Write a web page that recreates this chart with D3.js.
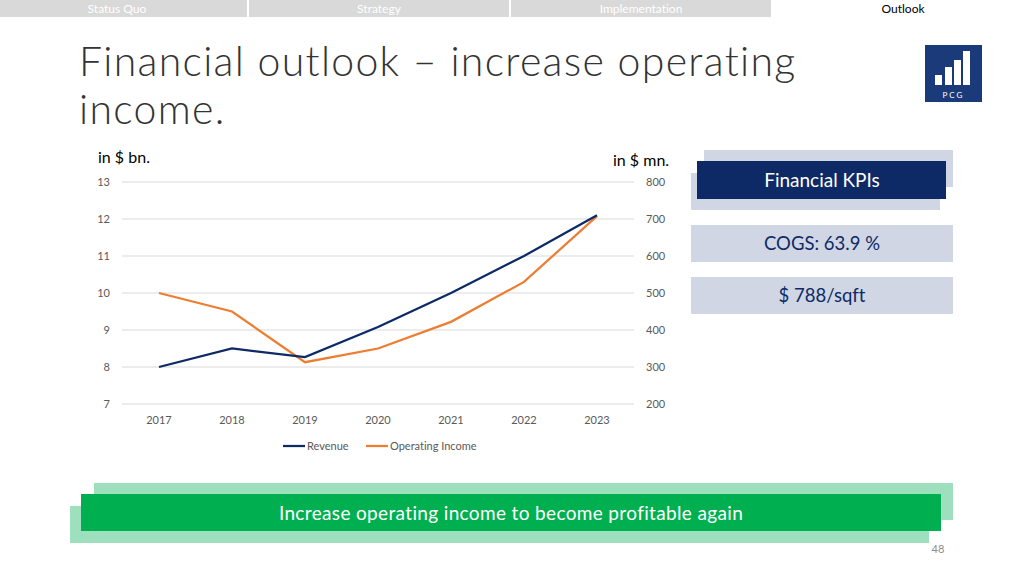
<!DOCTYPE html>
<html><head><meta charset="utf-8">
<script src="https://cdn.jsdelivr.net/npm/d3@7"></script>
<style>body{margin:0;background:#fff}svg{display:block}text{font-variant-ligatures:none}</style>
</head><body><svg id="c" width="1024" height="576"></svg>
<script>
const years = ["2017","2018","2019","2020","2021","2022","2023"];
const revenue = [8.0, 8.5, 8.27, 9.08, 10.0, 11.0, 12.1];
const opIncome = [500, 450, 313, 350, 422, 530, 708];
const leftTicks = [7,8,9,10,11,12,13];
const rightTicks = [200,300,400,500,600,700,800];
const tabs = ["Status Quo","Strategy","Implementation","Outlook"];
const kpis = ["COGS: 63.9 %","$ 788/sqft"];

const F = "Lato, 'Open Sans', sans-serif";
const svg = d3.select("#c");

// tabs
const tabX = d3.scaleBand().domain(tabs).range([-13,1033]).paddingInner(0.008);
tabs.forEach((t,i)=>{
  const last = i===tabs.length-1;
  svg.append("rect").attr("x",tabX(t)).attr("y",0).attr("width",tabX.bandwidth()).attr("height",17)
    .attr("fill", last?"#fff":"#d9d9d9");
  svg.append("text").attr("x",tabX(t)+tabX.bandwidth()/2).attr("y",13).attr("text-anchor","middle")
    .attr("font-family",F).attr("font-size",12).attr("fill", last?"#000":"#fff").text(t);
});

// title
svg.append("text").attr("x",79).attr("y",76).attr("font-family",F).attr("font-weight",300)
  .attr("font-size",41).attr("letter-spacing",1.3).attr("fill","#333").text("Financial outlook – increase operating");
svg.append("text").attr("x",79).attr("y",124).attr("font-family",F).attr("font-weight",300)
  .attr("font-size",41).attr("letter-spacing",1.3).attr("fill","#333").text("income.");

// logo
const lg = svg.append("g").attr("transform","translate(925,45)");
lg.append("rect").attr("width",57).attr("height",57).attr("fill","#1b3a7a");
[[10,30],[20,22],[29,15],[38,6]].forEach(b=>
  lg.append("rect").attr("x",b[0]).attr("y",b[1]).attr("width",7).attr("height",40-b[1]).attr("fill","#fff"));
lg.append("text").attr("x",28.5).attr("y",53).attr("text-anchor","middle").attr("font-family",F)
  .attr("font-size",8).attr("letter-spacing",2).attr("fill","#fff").text("PCG");

// chart
const x = d3.scaleBand().domain(years).range([122.5,633.5]);
const yL = d3.scaleLinear().domain([7,13]).range([404,182]);
const yR = d3.scaleLinear().domain([200,800]).range([404,182]);
const grid = svg.append("g");
leftTicks.forEach(t=>grid.append("line").attr("x1",122).attr("x2",634).attr("y1",yL(t)).attr("y2",yL(t))
  .attr("stroke","#d9d9d9").attr("stroke-width",1));

const axL = svg.append("g").attr("transform","translate(118,0)")
  .call(d3.axisLeft(yL).tickValues(leftTicks).tickSize(0).tickPadding(8).tickFormat(d3.format("d")));
const axR = svg.append("g").attr("transform","translate(638,0)")
  .call(d3.axisRight(yR).tickValues(rightTicks).tickSize(0).tickPadding(8).tickFormat(d3.format("d")));
const axB = svg.append("g").attr("transform","translate(0,412)")
  .call(d3.axisBottom(x).tickSize(0).tickPadding(4));
[axL,axR,axB].forEach(a=>{a.select(".domain").remove();
  a.selectAll("text").attr("font-family",F).attr("font-size",11).attr("fill","#595959");});

const lineL = d3.line().x((d,i)=>x(years[i])+x.bandwidth()/2).y(d=>yL(d));
const lineR = d3.line().x((d,i)=>x(years[i])+x.bandwidth()/2).y(d=>yR(d));
svg.append("path").datum(opIncome).attr("d",lineR).attr("fill","none").attr("stroke","#ed7d31").attr("stroke-width",2.25);
svg.append("path").datum(revenue).attr("d",lineL).attr("fill","none").attr("stroke","#0d2a66").attr("stroke-width",2.25);

svg.append("text").attr("x",98).attr("y",163).attr("font-family",F).attr("font-size",16).attr("fill","#000").text("in $ bn.");
svg.append("text").attr("x",613).attr("y",166).attr("font-family",F).attr("font-size",16).attr("fill","#000").text("in $ mn.");

// legend
[["Revenue","#0d2a66",283],["Operating Income","#ed7d31",366]].forEach(l=>{
  svg.append("line").attr("x1",l[2]).attr("x2",l[2]+22).attr("y1",446).attr("y2",446).attr("stroke",l[1]).attr("stroke-width",2.25);
  svg.append("text").attr("x",l[2]+24).attr("y",450).attr("font-family",F).attr("font-size",11).attr("fill","#595959").text(l[0]);
});

// KPI boxes
svg.append("rect").attr("x",704).attr("y",150).attr("width",249).attr("height",37).attr("fill","#d0d6e4");
svg.append("rect").attr("x",691).attr("y",173).attr("width",249).attr("height",37).attr("fill","#d0d6e4");
svg.append("rect").attr("x",697).attr("y",161).attr("width",249).attr("height",38).attr("fill","#0d2a66");
svg.append("text").attr("x",822).attr("y",187).attr("text-anchor","middle").attr("font-family",F)
  .attr("font-size",19).attr("fill","#fff").text("Financial KPIs");
kpis.forEach((k,i)=>{
  const y0 = 225 + i*52;
  svg.append("rect").attr("x",691).attr("y",y0).attr("width",262).attr("height",37).attr("fill","#d0d6e4");
  svg.append("text").attr("x",822).attr("y",y0+25).attr("text-anchor","middle").attr("font-family",F)
    .attr("font-size",18.5).attr("fill","#0d2a66").text(k);
});

// bottom banner
svg.append("rect").attr("x",94).attr("y",483).attr("width",859).attr("height",37).attr("fill","#9ee0bd");
svg.append("rect").attr("x",70).attr("y",506).attr("width",859).attr("height",37).attr("fill","#9ee0bd");
svg.append("rect").attr("x",81).attr("y",494).attr("width",860).attr("height",37).attr("fill","#00b050");
svg.append("text").attr("x",511).attr("y",520).attr("text-anchor","middle").attr("font-family",F)
  .attr("font-size",19).attr("letter-spacing",0.35).attr("fill","#fff").text("Increase operating income to become profitable again");

svg.append("text").attr("x",938).attr("y",553).attr("text-anchor","middle").attr("font-family",F)
  .attr("font-size",11).attr("fill","#8c8c8c").text("48");
</script></body></html>
